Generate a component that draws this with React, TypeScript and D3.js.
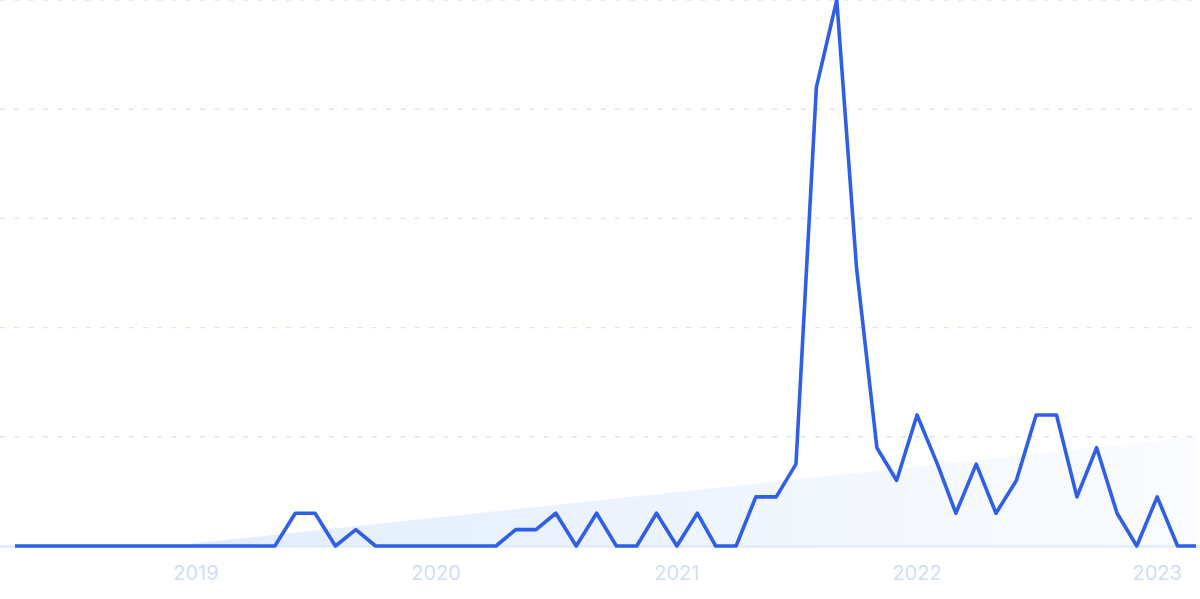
import React from "react";
import * as d3 from "d3";

const months: string[] = [
  "2018-04","2018-05","2018-06","2018-07","2018-08","2018-09","2018-10","2018-11","2018-12",
  "2019-01","2019-02","2019-03","2019-04","2019-05","2019-06","2019-07","2019-08","2019-09","2019-10","2019-11","2019-12",
  "2020-01","2020-02","2020-03","2020-04","2020-05","2020-06","2020-07","2020-08","2020-09","2020-10","2020-11","2020-12",
  "2021-01","2021-02","2021-03","2021-04","2021-05","2021-06","2021-07","2021-08","2021-09","2021-10","2021-11","2021-12",
  "2022-01","2022-02","2022-03","2022-04","2022-05","2022-06","2022-07","2022-08","2022-09","2022-10","2022-11","2022-12",
  "2023-01","2023-02","2023-03",
];

const values: number[] = [
  0, 0, 0, 0, 0, 0, 0, 0, 0,
  0, 0, 0, 0, 0, 6, 6, 0, 3, 0, 0, 0,
  0, 0, 0, 0, 3, 3, 6, 0, 6, 0, 0, 6,
  0, 6, 0, 0, 9, 9, 15, 84, 100, 51, 18, 12,
  24, 15, 6, 15, 6, 12, 24, 24, 9, 18, 6, 0,
  9, 0, 0,
];

const trendValues: number[] = [-3, 20];
const gridValues: number[] = [20, 40, 60, 80, 100];
const yearLabels: string[] = ["2019", "2020", "2021", "2022", "2023"];

const W = 1200;
const H = 599;
const left = 15;
const right = 1196;
const top = 0;
const bottom = 546;

export default function App() {
  const parse = d3.utcParse("%Y-%m");
  const dates = months.map((m) => parse(m) as Date);
  const data = dates.map((d, i) => ({ d, v: values[i] }));

  const x = d3.scaleUtc().domain([dates[0], dates[dates.length - 1]]).range([left, right]);
  const y = d3.scaleLinear().domain([0, 100]).range([bottom, top]);

  const line = d3
    .line<{ d: Date; v: number }>()
    .x((p) => x(p.d))
    .y((p) => y(p.v))
    .curve(d3.curveLinear);

  const trendData = [
    { d: dates[0], v: trendValues[0] },
    { d: dates[dates.length - 1], v: trendValues[1] },
  ];
  const trendArea = d3
    .area<{ d: Date; v: number }>()
    .x((p) => x(p.d))
    .y0(y(0))
    .y1((p) => y(p.v));

  return (
    <svg
      width={W}
      height={H}
      style={{ position: "absolute", left: 0, top: 0, background: "#fff" }}
    >
      <defs>
        <clipPath id="plotClip">
          <rect x={0} y={-10} width={W} height={bottom + 10} />
        </clipPath>
        <linearGradient id="trendGrad" x1="0" y1="0" x2="1" y2="0">
          <stop offset="0%" stopColor="#dbe8fb" stopOpacity={0.95} />
          <stop offset="45%" stopColor="#e1ecfc" stopOpacity={0.7} />
          <stop offset="100%" stopColor="#eef3fd" stopOpacity={0.3} />
        </linearGradient>
      </defs>

      {gridValues.map((g) => (
        <line
          key={g}
          x1={0}
          x2={W}
          y1={y(g)}
          y2={y(g)}
          stroke="#d9e3fb"
          strokeWidth={1.4}
          strokeDasharray="5 9.3"
        />
      ))}

      <path d={trendArea(trendData) || ""} fill="url(#trendGrad)" clipPath="url(#plotClip)" />

      <line x1={0} x2={W} y1={y(0) + 0.5} y2={y(0) + 0.5} stroke="#dce8fb" strokeWidth={2} />

      <path
        d={line(data) || ""}
        fill="none"
        stroke="#2f5fe6"
        strokeWidth={3.6}
        strokeLinejoin="round"
        strokeLinecap="butt"
      />

      {yearLabels.map((yl) => (
        <text
          key={yl}
          x={x(parse(yl + "-01") as Date)}
          y={580}
          textAnchor="middle"
          fontFamily="Inter, 'Noto Sans', sans-serif"
          fontSize={20}
          fill="#d3dcf6"
        >
          {yl}
        </text>
      ))}
    </svg>
  );
}
